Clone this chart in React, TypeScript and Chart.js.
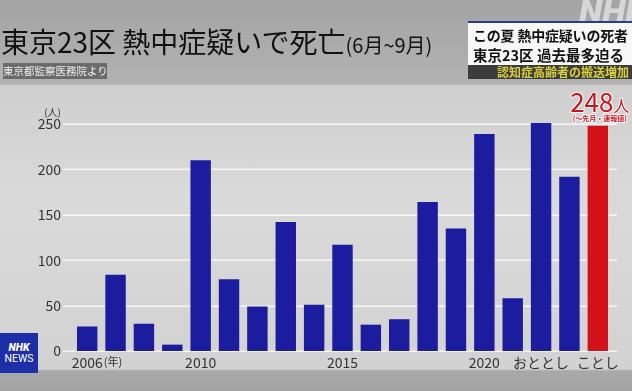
import React, { useEffect, useRef } from "react";
import { Chart, registerables } from "chart.js";

Chart.register(...registerables);

const years = ["2006","2007","2008","2009","2010","2011","2012","2013","2014","2015","2016","2017","2018","2019","2020","2021","2022","2023","2024"];
const tickLabels = ["2006","","","","2010","","","","","2015","","","","","2020","","おととし","","ことし"];
const deaths = [27, 84, 30, 7, 210, 79, 49, 142, 51, 117, 29, 35, 164, 135, 239, 58, 251, 192, 248];
const barColors = deaths.map((_, i) => (i === deaths.length - 1 ? "#d3111b" : "#1c1c9e"));
const yTicks = [0, 50, 100, 150, 200, 250];

const FONT = '"Noto Sans CJK JP", "Noto Sans", sans-serif';

const overlayPlugin = {
  id: "overlay",
  beforeDatasetsDraw(chart: any) {
    const { ctx, scales } = chart;
    const y = scales.y;
    ctx.save();
    ctx.strokeStyle = "rgba(250,250,250,0.9)";
    ctx.lineWidth = 1.5;
    yTicks.forEach((v) => {
      const py = Math.round(y.getPixelForValue(v)) + 0.25;
      ctx.beginPath();
      ctx.moveTo(63, py);
      ctx.lineTo(617, py);
      ctx.stroke();
    });
    ctx.restore();
  },
  afterDraw(chart: any) {
    const { ctx, scales } = chart;
    const x = scales.x;
    const y = scales.y;
    ctx.save();
    // unit (人)
    ctx.fillStyle = "#333";
    ctx.font = `10px ${FONT}`;
    ctx.textAlign = "right";
    ctx.textBaseline = "middle";
    ctx.fillText("(人)", 61, y.getPixelForValue(250) - 12);
    // (年) after first tick
    ctx.font = `14px ${FONT}`;
    const w2006 = ctx.measureText(tickLabels[0]).width;
    ctx.font = `11px ${FONT}`;
    ctx.textAlign = "left";
    ctx.fillText("(年)", x.getPixelForTick(0) + w2006 / 2 + 1, 362);
    // 248人 label
    const last = deaths.length - 1;
    const cx = x.getPixelForValue(last) + 2;
    const topY = y.getPixelForValue(deaths[last]);
    ctx.lineJoin = "round";
    ctx.font = `26px ${FONT}`;
    const numText = String(deaths[last]);
    const numW = ctx.measureText(numText).width;
    ctx.font = `16px ${FONT}`;
    const unitW = ctx.measureText("人").width;
    const startX = cx - (numW + unitW) / 2;
    const base = topY - 14;
    ctx.textBaseline = "alphabetic";
    ctx.textAlign = "left";
    ctx.strokeStyle = "rgba(255,255,255,0.9)";
    ctx.lineWidth = 2;
    ctx.fillStyle = "#c9141f";
    ctx.font = `26px ${FONT}`;
    ctx.strokeText(numText, startX, base);
    ctx.fillText(numText, startX, base);
    ctx.font = `16px ${FONT}`;
    ctx.strokeText("人", startX + numW, base);
    ctx.fillText("人", startX + numW, base);
    ctx.font = `bold 7px ${FONT}`;
    ctx.textAlign = "center";
    ctx.textBaseline = "middle";
    ctx.lineWidth = 2;
    ctx.strokeText("(〜先月・速報値)", cx, base + 7);
    ctx.fillText("(〜先月・速報値)", cx, base + 7);
    ctx.restore();
  },
};

function ChartCanvas() {
  const ref = useRef<HTMLCanvasElement | null>(null);
  useEffect(() => {
    if (!ref.current) return;
    const chart = new Chart(ref.current, {
      type: "bar",
      data: {
        labels: years,
        datasets: [
          {
            data: deaths,
            backgroundColor: barColors,
            barPercentage: 0.72,
            categoryPercentage: 1,
            clip: false as any,
          },
        ],
      },
      options: {
        animation: false,
        responsive: false,
        maintainAspectRatio: false,
        events: [],
        layout: { padding: { left: 0, right: 20, top: 124, bottom: 0 } },
        plugins: { legend: { display: false }, tooltip: { enabled: false } },
        scales: {
          x: {
            offset: true,
            grid: { display: false, drawTicks: false },
            border: { display: false },
            afterFit: (s: any) => { s.height = 40; },
            ticks: {
              autoSkip: false,
              maxRotation: 0,
              padding: 3,
              color: "#333",
              font: { family: FONT, size: 14 },
              callback: (_v: any, i: number) => tickLabels[i],
            },
          },
          y: {
            min: 0,
            max: 250,
            grid: { display: false, drawTicks: false },
            border: { display: false },
            afterFit: (s: any) => { s.width = 73; },
            ticks: {
              stepSize: 50,
              padding: 12,
              color: "#333",
              font: { family: FONT, size: 14 },
            },
          },
        },
      },
      plugins: [overlayPlugin],
    });
    return () => chart.destroy();
  }, []);
  return <canvas ref={ref} width={632} height={391} style={{ position: "absolute", left: 0, top: 0, width: 632, height: 391 }} />;
}

export default function App() {
  useEffect(() => {
    document.body.style.margin = "0";
  }, []);
  return (
    <div style={{ position: "absolute", left: 0, top: 0, width: 632, height: 391, overflow: "hidden", fontFamily: FONT,
      background: "linear-gradient(180deg, #a4a4a4 0px, #b2b2b2 84px, #cfcfcf 86px, #dadada 200px, #d2d2d2 369px, #a9a9a9 371px, #a2a2a2 391px)" }}>
      <ChartCanvas />
      {/* Title */}
      <div style={{ position: "absolute", left: 1, top: 27, whiteSpace: "nowrap", color: "#111", lineHeight: 1 }}>
        <span style={{ fontSize: 28 }}>東京23区 熱中症疑いで死亡</span>
        <span style={{ fontSize: 20 }}>(6月~9月)</span>
      </div>
      {/* Source */}
      <div style={{ position: "absolute", left: 3, top: 63, width: 104, height: 16, background: "#6b6b6b", color: "#eee",
        fontSize: 10.5, lineHeight: "16px", textAlign: "center", whiteSpace: "nowrap" }}>東京都監察医務院より</div>
      {/* NHK watermark */}
      <div style={{ position: "absolute", left: 579, top: -9, fontSize: 34, fontWeight: 900, fontStyle: "italic",
        color: "rgba(255,255,255,0.55)", fontFamily: "Roboto, sans-serif", whiteSpace: "nowrap", lineHeight: 1.2 }}>NHK</div>
      {/* Right box */}
      <div style={{ position: "absolute", left: 468, top: 21, width: 164, height: 44, background: "#f8f8f8", borderTop: "2px solid #2d3a8c", boxSizing: "border-box" }}>
        <div style={{ position: "absolute", left: 5, top: 4, fontSize: 14, letterSpacing: -0.2, fontWeight: 700, color: "#111", whiteSpace: "nowrap", lineHeight: "17px" }}>この夏 熱中症疑いの死者</div>
        <div style={{ position: "absolute", left: 5, top: 23, fontSize: 14.5, letterSpacing: 0, fontWeight: 700, color: "#111", whiteSpace: "nowrap", lineHeight: "17px" }}>東京23区 過去最多迫る</div>
      </div>
      <div style={{ position: "absolute", left: 468, top: 65, width: 164, height: 14, background: "#3c3c3c" }}>
        <div style={{ position: "absolute", right: 3, top: 0, fontSize: 12, fontWeight: 700, color: "#d9cf3c", whiteSpace: "nowrap", lineHeight: "14px" }}>認知症高齢者の搬送増加</div>
      </div>
      {/* NHK NEWS badge */}
      <div style={{ position: "absolute", left: 0, top: 333, width: 38, height: 40, background: "#1d2ea6", color: "#fff", textAlign: "center", lineHeight: 1 }}>
        <div style={{ position: "absolute", left: 0, width: 38, top: 10, fontSize: 10.5, fontWeight: 900, fontStyle: "italic", fontFamily: "Roboto, sans-serif" }}>NHK</div>
        <div style={{ position: "absolute", left: 0, width: 38, top: 21, fontSize: 10.5, fontFamily: "Roboto, sans-serif" }}>NEWS</div>
      </div>
    </div>
  );
}
